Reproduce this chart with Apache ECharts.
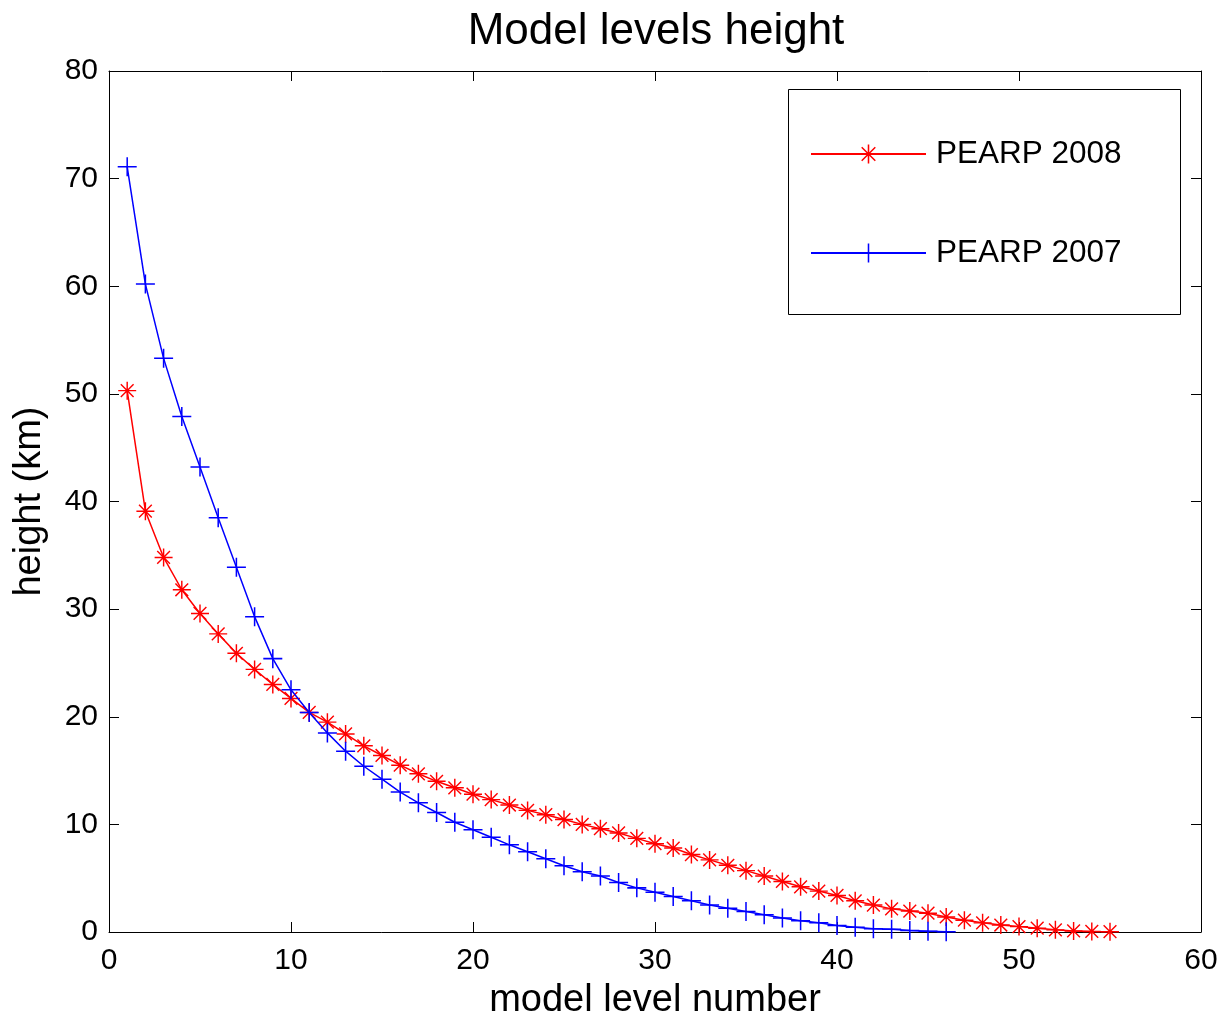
<!DOCTYPE html>
<html>
<head>
<meta charset="utf-8">
<script src="https://cdn.jsdelivr.net/npm/echarts@6/dist/echarts.min.js"></script>
<style>html,body{margin:0;padding:0;background:#fff}#c{width:1224px;height:1020px}</style>
</head>
<body>
<div id="c"></div>
<script>
var levels2008 = [1,2,3,4,5,6,7,8,9,10,11,12,13,14,15,16,17,18,19,20,21,22,23,24,25,26,27,28,29,30,31,32,33,34,35,36,37,38,39,40,41,42,43,44,45,46,47,48,49,50,51,52,53,54,55];
var height2008 = [50.3,39.1,34.8,31.8,29.6,27.7,25.9,24.4,23.0,21.7,20.4,19.5,18.4,17.3,16.4,15.5,14.7,14.0,13.4,12.8,12.3,11.8,11.3,10.9,10.45,10.0,9.6,9.2,8.7,8.2,7.8,7.2,6.7,6.2,5.7,5.2,4.7,4.2,3.8,3.4,2.9,2.5,2.15,1.95,1.75,1.4,1.1,0.85,0.65,0.5,0.35,0.2,0.1,0.05,0.03];
var levels2007 = [1,2,3,4,5,6,7,8,9,10,11,12,13,14,15,16,17,18,19,20,21,22,23,24,25,26,27,28,29,30,31,32,33,34,35,36,37,38,39,40,41,42,43,44,45,46];
var height2007 = [71.1,60.2,53.3,47.9,43.2,38.5,33.9,29.3,25.4,22.5,20.4,18.5,16.8,15.4,14.2,13.0,12.0,11.1,10.2,9.5,8.8,8.1,7.45,6.8,6.15,5.6,5.2,4.6,4.1,3.7,3.3,2.9,2.5,2.2,1.9,1.6,1.3,1.05,0.85,0.6,0.45,0.3,0.25,0.15,0.08,0.03];
var seriesNames = ['PEARP 2008', 'PEARP 2007'];
var titleText = 'Model levels height';
var xName = 'model level number';
var yName = 'height (km)';

function pairs(xs, ys){ return xs.map(function(x,i){ return [x, ys[i]]; }); }

var plusPath = 'path://M0,46L100,46L100,54L0,54Z M46,0L54,0L54,100L46,100Z';
var starPath = 'path://M0,46L100,46L100,54L0,54Z M46,0L54,0L54,100L46,100Z ' +
  'M17.4,11.8L88.2,82.6L82.6,88.2L11.8,17.4Z M82.6,11.8L88.2,17.4L17.4,88.2L11.8,82.6Z';

var font = 'Liberation Sans, Arial, sans-serif';
var chart = echarts.init(document.getElementById('c'), null, {renderer:'canvas'});
function axisBase(max, pos, extra){
  var a = {
    type: 'value', min: 0, max: max, interval: 10, position: pos,
    axisLine: {show: true, onZero: false, lineStyle: {color: '#000', width: 1}},
    axisTick: {show: true, inside: true, length: 10, lineStyle: {color: '#000', width: 1}},
    splitLine: {show: false},
    axisLabel: {show: false}
  };
  return Object.assign(a, extra || {});
}
chart.setOption({
  animation: false,
  backgroundColor: '#fff',
  textStyle: {fontFamily: font},
  title: {
    text: titleText, left: 651, textAlign: 'center', top: 5,
    textStyle: {fontFamily: font, fontSize: 44, fontWeight: 'normal', color: '#000'}
  },
  grid: {left: 109, right: 23, top: 71, bottom: 88, containLabel: false, outerBoundsMode: 'none'},
  legend: {
    orient: 'vertical', left: 810, top: 136, padding: 0,
    itemWidth: 115, itemHeight: 24, itemGap: 63,
    data: seriesNames,
    textStyle: {fontFamily: font, fontSize: 31.5, color: '#000', lineHeight: 36, padding: [0,0,0,5]}
  },
  graphic: [{
    type: 'rect', left: 786, top: 87, z: 100,
    shape: {width: 392, height: 225},
    style: {fill: 'none', stroke: '#000', lineWidth: 1}
  }],
  xAxis: [
    axisBase(60, 'bottom', {
      name: xName, nameLocation: 'middle', nameGap: 50,
      nameTextStyle: {fontFamily: font, fontSize: 38, color: '#000'},
      axisLabel: {show: true, fontFamily: font, fontSize: 30, color: '#000', margin: 14}
    }),
    axisBase(60, 'top')
  ],
  yAxis: [
    axisBase(80, 'left', {
      name: yName, nameLocation: 'middle', nameGap: 60,
      nameTextStyle: {fontFamily: font, fontSize: 38, color: '#000'},
      axisLabel: {show: true, fontFamily: font, fontSize: 30, color: '#000', margin: 11}
    }),
    axisBase(80, 'right')
  ],
  series: [
    {
      name: seriesNames[0], type: 'line', xAxisIndex: 0, yAxisIndex: 0,
      data: pairs(levels2008, height2008),
      symbol: starPath, symbolSize: 18, showAllSymbol: true,
      lineStyle: {color: '#ff0000', width: 1.5},
      itemStyle: {color: '#ff0000'},
      z: 2
    },
    {
      name: seriesNames[1], type: 'line', xAxisIndex: 0, yAxisIndex: 0,
      data: pairs(levels2007, height2007),
      symbol: plusPath, symbolSize: 19, showAllSymbol: true,
      lineStyle: {color: '#0000ff', width: 1.5},
      itemStyle: {color: '#0000ff'},
      z: 3
    }
  ]
});
</script>
</body>
</html>
